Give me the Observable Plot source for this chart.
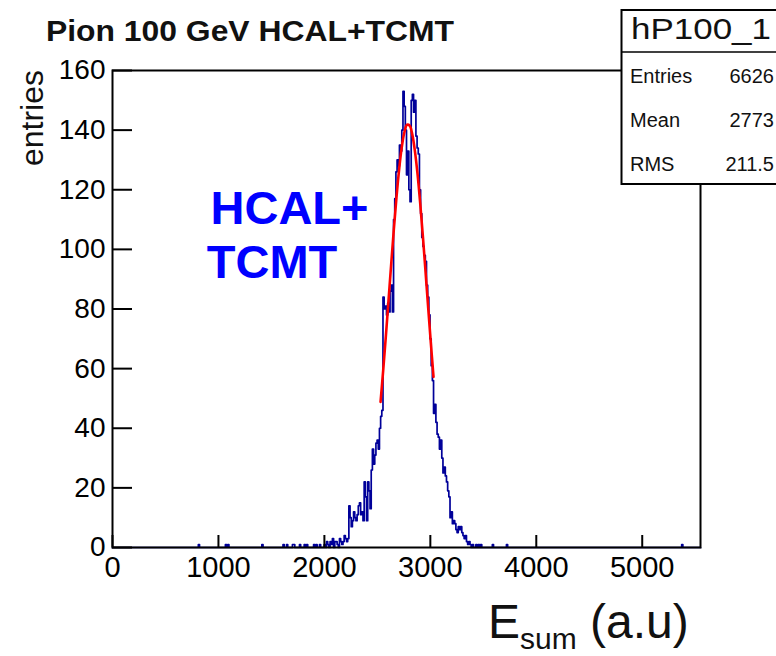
<!DOCTYPE html>
<html><head><meta charset="utf-8">
<script src="https://cdn.jsdelivr.net/npm/d3@7"></script>
<script src="https://cdn.jsdelivr.net/npm/@observablehq/plot@0.6"></script>
<style>
body{margin:0;background:#fff;}
svg{font-family:"Liberation Sans",Arial,Helvetica,sans-serif;}
</style>
</head><body><div id="chart"></div>
<script>
// ---- data ----
const binWidth = 11.1;          // histogram bin width (a.u)
const nBins = 500;              // 0 .. 5550
const coreStartBin = 180;       // first bin of the core list
const coreCounts = [
  1,0,2,1,0,2,1,3,0,2,
  2,1,0,3,2,1,2,4,3,2,
  3,14,10,7,9,12,10,9,11,14,
  15,11,12,9,22,17,9,22,19,13,
  26,33,28,31,35,36,33,40,44,46,
  84,80,81,78,82,79,86,88,79,110,
  117,126,130,128,135,133,140,153,148,140,
  125,133,120,116,150,152,146,150,138,134,
  132,120,112,104,101,98,96,88,84,78,
  70,61,56,45,48,42,38,37,33,36,
  30,25,27,24,22,19,17,10,12,8,
  9,8,6,5,7,6,7,5,4,3,
  4,2,1,2,1,0,1,0,0,1,
  0,1,0,1,0
];
const sparseEntries = [815,1070,1090,1415,1610,1645,1705,1720,1770,1810,1835,1900,1925,1960,3590,3725,5380];
const fitX = [2530,2555,2580,2605,2630,2655,2680,2705,2730,2755,2780,2805,2830,2855,2880,2905,2930,2955,2980,3005,3030];
const fitY = [48.8,59.4,70.8,82.7,94.8,106.5,117.3,126.7,134.2,139.3,141.8,141.5,138.5,132.8,125.0,115.2,104.2,92.4,80.3,68.5,57.2];
const xTicks = [0,1000,2000,3000,4000,5000];
const yTicks = [0,20,40,60,80,100,120,140,160];
const titleText = "Pion 100 GeV HCAL+TCMT";
const yTitle = "entries";
const annotLines = ["HCAL+","TCMT"];
const statsName = "hP100_1";
const statsLabels = ["Entries","Mean","RMS"];
const statsValues = ["6626","2773","211.5"];

// ---- build tables ----
const counts = new Array(nBins).fill(0);
coreCounts.forEach((c,k) => counts[coreStartBin + k] += c);
sparseEntries.forEach(v => counts[Math.floor(v / binWidth)] += 1);
const steps = counts.map((c,i) => ({x: i * binWidth, y: c}));
steps.push({x: nBins * binWidth, y: counts[nBins - 1]});
const fit = fitX.map((x,i) => ({x, y: fitY[i]}));
const annot = [
  {x: 925, y: 108.5, t: annotLines[0]},
  {x: 890, y: 90.5, t: annotLines[1]}
];

const W = 776, H = 656, mL = 112, mR = 76, mT = 70, mB = 109;
const fmt = d => String(d);

const svg = Plot.plot({
  width: W, height: H,
  marginLeft: mL, marginRight: mR, marginTop: mT, marginBottom: mB,
  style: {background: "white", color: "black", fontFamily: "'Liberation Sans',Arial,sans-serif"},
  x: {domain: [0, nBins * binWidth]},
  y: {domain: [0, 160]},
  marks: [
    Plot.line(steps, {x: "x", y: "y", curve: "step-after", stroke: "#000099", strokeWidth: 1.7}),
    Plot.line(fit, {x: "x", y: "y", curve: "catmull-rom", stroke: "#ff0000", strokeWidth: 2.6}),
    Plot.axisX(xTicks, {tickSize: -12, fill: "none", label: null, strokeWidth: 2}),
    Plot.axisX(xTicks, {tickSize: 0, tickPadding: 9, stroke: "none", label: null, fontSize: 29, fill: "black", tickFormat: fmt}),
    Plot.axisY(yTicks, {tickSize: -20, fill: "none", label: null, strokeWidth: 2}),
    Plot.axisY(yTicks, {tickSize: 0, tickPadding: 7, stroke: "none", label: null, fontSize: 28, fill: "black", tickFormat: fmt}),
    Plot.frame({stroke: "black", strokeWidth: 2}),
    Plot.text(annot, {x: "x", y: "y", text: "t", textAnchor: "start", lineAnchor: "bottom", fontSize: 47, fontWeight: "bold", fill: "#0000ff"})
  ]
});
document.getElementById("chart").appendChild(svg);

const s = d3.select(svg);
// title
s.append("text").attr("x", 46).attr("y", 41).attr("text-anchor", "start")
  .attr("font-size", 29).attr("font-weight", "bold").attr("fill", "#111")
  .attr("textLength", 408).attr("lengthAdjust", "spacingAndGlyphs")
  .text(titleText);
// y axis title
s.append("text").attr("transform", "translate(43,70) rotate(-90)")
  .attr("text-anchor", "end").attr("font-size", 32).attr("fill", "#111")
  .text(yTitle);
// x axis title E_sum (a.u)
const xt = s.append("text").attr("x", 488).attr("y", 638).attr("text-anchor", "start")
  .attr("fill", "#111").attr("font-size", 48);
xt.append("tspan").text("E");
xt.append("tspan").attr("font-size", 30).attr("dy", 11).text("sum");
xt.append("tspan").attr("dy", -11).text(" (a.u)");
// stats box
const g = s.append("g").attr("text-anchor", "start").attr("fill", "#111");
g.append("rect").attr("x", 621.5).attr("y", 10).attr("width", 200).attr("height", 174)
  .attr("fill", "white").attr("stroke", "black").attr("stroke-width", 2);
g.append("line").attr("x1", 621.5).attr("x2", 800).attr("y1", 52).attr("y2", 52)
  .attr("stroke", "black").attr("stroke-width", 1.5);
g.append("text").attr("x", 631).attr("y", 39).attr("font-size", 30)
  .attr("textLength", 140).attr("lengthAdjust", "spacingAndGlyphs").text(statsName);
statsLabels.forEach((lab, i) => {
  const yb = 83 + i * 44;
  g.append("text").attr("x", 630).attr("y", yb).attr("font-size", 20).text(lab);
  g.append("text").attr("x", 774).attr("y", yb).attr("font-size", 20).attr("text-anchor", "end").text(statsValues[i]);
});
</script>
</body></html>
